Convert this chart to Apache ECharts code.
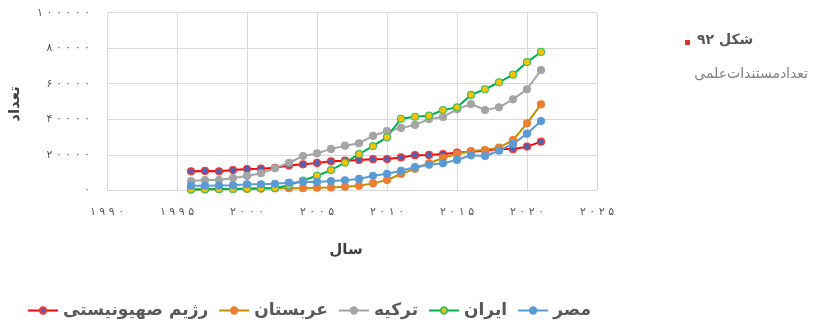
<!DOCTYPE html>
<html><head><meta charset="utf-8">
<script src="https://cdn.jsdelivr.net/npm/echarts@6/dist/echarts.min.js"></script>
<style>html,body{margin:0;padding:0;background:#fff}#c{width:816px;height:325px}</style>
</head><body><div id="c"></div>
<script>
var years = [1996,1997,1998,1999,2000,2001,2002,2003,2004,2005,2006,2007,2008,2009,2010,2011,2012,2013,2014,2015,2016,2017,2018,2019,2020,2021];
var israel = [10700,10900,10700,11400,12000,12200,12700,13900,14600,15400,16300,16700,17100,17500,17600,18500,19800,19900,20400,21200,21700,22300,23400,23100,24600,27400];
var saudi  = [500,500,600,700,800,900,1100,1200,1200,1500,1600,2000,2600,3900,5800,9200,12200,15200,18200,20400,22100,22700,24000,28300,37700,48400];
var turkey = [5200,5800,5800,6900,8100,9600,12400,15500,19300,20800,23300,25100,26500,30600,33400,35100,36800,40100,41300,45600,48600,45200,46700,51200,56900,67700];
var iran   = [400,600,700,800,1000,1200,1300,2900,5500,8200,11400,15600,20400,24900,29900,40300,41400,42000,45200,46700,53700,56900,60800,65100,72200,77900];
var egypt  = [2600,2600,2700,2800,3400,3400,3700,4300,4700,4700,5200,5600,6400,8200,9300,11000,13100,14400,15200,17100,19700,19300,22300,26100,31900,39000];
var seriesNames = ['رژیم صهیونیستی','عربستان','ترکیه','ایران','مصر'];
var xTicks = [1990,1995,2000,2005,2010,2015,2020,2025];
var yTicks = [0,20000,40000,60000,80000,100000];
var titleText = 'شکل ۹۲';
var subtitleText = 'تعدادمستندات‌علمی';
var xName = 'سال';
var yName = 'تعداد';

function fa(n){ return String(n).split('').map(function(d){ return '۰۱۲۳۴۵۶۷۸۹'[+d]; }).join(' '); }
function pairs(v){ return years.map(function(y,i){ return [y, v[i]]; }); }

var styles = [
  {line:'#FF0000', fill:'#4F63B0', border:'#FF3030'},
  {line:'#C09000', fill:'#ED7D31', border:'#ED7D31'},
  {line:'#A5A5A5', fill:'#A5A5A5', border:'#A5A5A5'},
  {line:'#00B050', fill:'#FFC000', border:'#3CC060'},
  {line:'#5B9BD5', fill:'#5B9BD5', border:'#5B9BD5'}
];
var data = [israel, saudi, turkey, iran, egypt];

var chart = echarts.init(document.getElementById('c'), null, {renderer:'canvas'});
var font = 'DejaVu Sans';
chart.setOption({
  animation:false,
  backgroundColor:'#fff',
  grid:{left:107, right:219, top:12.7, bottom:134.7, containLabel:false},
  xAxis:{type:'value', min:xTicks[0], max:xTicks[xTicks.length-1], interval:5,
    axisLine:{show:true, lineStyle:{color:'#d9d9d9', width:1}},
    axisTick:{show:false},
    splitLine:{show:true, lineStyle:{color:'#d9d9d9', width:1}},
    axisLabel:{formatter:function(v){return fa(v);}, color:'#595959', fontFamily:font, fontSize:11, margin:16}
  },
  yAxis:{type:'value', min:yTicks[0], max:yTicks[yTicks.length-1], interval:20000,
    axisLine:{show:false}, axisTick:{show:false},
    splitLine:{show:true, lineStyle:{color:'#d9d9d9', width:1}},
    axisLabel:{formatter:function(v){return fa(v);}, color:'#595959', fontFamily:font, fontSize:11, margin:17}
  },
  legend:{left:22, top:297, itemWidth:30, itemHeight:8, itemGap:10,
    textStyle:{color:'#595959', fontFamily:font, fontSize:17, fontWeight:'bold'},
    data:seriesNames
  },
  graphic:[
    {type:'rect', left:685, top:40, shape:{width:5, height:5}, style:{fill:'#E03030'}},
    {type:'text', left:697, top:33, style:{text:titleText, font:'bold 14px "DejaVu Sans"', fill:'#595959'}},
    {type:'text', right:8, top:67, style:{text:subtitleText, font:'14px "DejaVu Sans"', fill:'#7f7f7f'}},
    {type:'text', x:346, y:250, style:{text:xName, font:'bold 15px "DejaVu Sans"', fill:'#404040', align:'center', verticalAlign:'middle'}},
    {type:'text', x:15, y:104, rotation:Math.PI/2, style:{text:yName, font:'bold 15px "DejaVu Sans"', fill:'#404040', align:'center', verticalAlign:'middle'}}
  ],
  series:data.map(function(v,i){
    return {name:seriesNames[i], type:'line', data:pairs(v), symbol:'circle', symbolSize:7,
      lineStyle:{color:styles[i].line, width:2},
      itemStyle:{color:styles[i].fill, borderColor:styles[i].border, borderWidth:1.2}};
  })
});
</script></body></html>
